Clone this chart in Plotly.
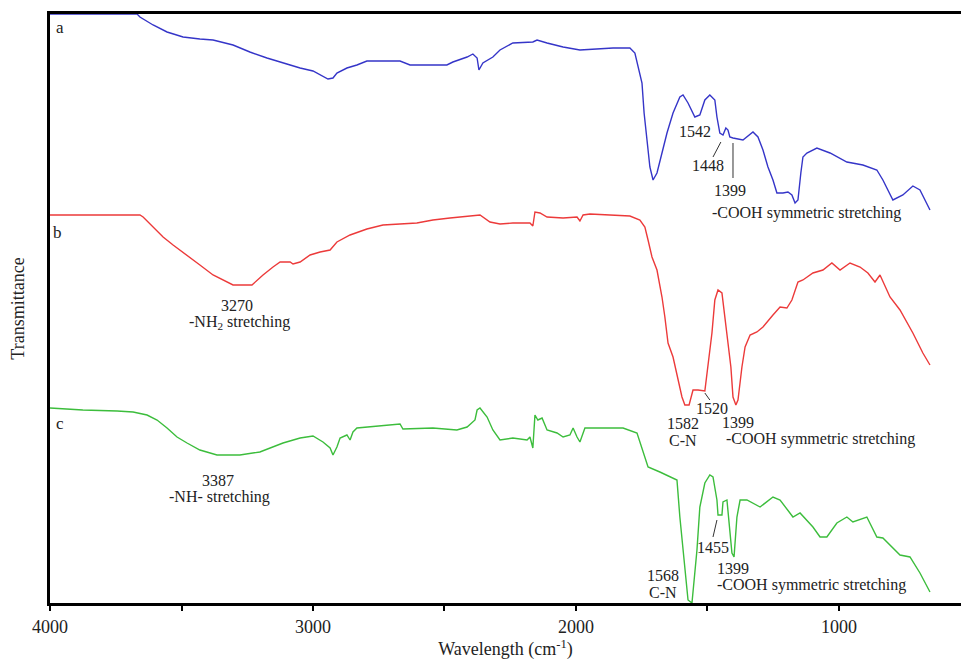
import plotly.graph_objects as go

# Wavenumber (cm^-1) and relative transmittance (arbitrary units)
a_wn = [4000, 3669, 3658, 3608, 3555, 3494, 3430, 3380, 3304, 3240, 3175, 3114, 3049, 3000, 2973,
        2943, 2924, 2909, 2871, 2833, 2795, 2669, 2631, 2491, 2468, 2414, 2392, 2376, 2369, 2354,
        2316, 2289, 2240, 2164, 2148, 2110, 2049, 1985, 1859, 1795, 1776, 1764, 1749, 1741, 1730,
        1719, 1707, 1692, 1673, 1654, 1631, 1605, 1593, 1574, 1548, 1529, 1510, 1491, 1472, 1464,
        1453, 1441, 1430, 1422, 1415, 1403, 1365, 1350, 1327, 1308, 1289, 1270, 1251, 1236, 1213,
        1194, 1179, 1167, 1156, 1145, 1137, 1122, 1084, 1034, 970, 909, 856, 833, 795, 757, 719,
        692, 654]
a_t = [589, 589, 586, 578, 571, 566, 564, 563, 558, 551, 545, 540, 535, 532, 528,
       524, 525, 530, 535, 538, 542, 542, 538, 538, 541, 546, 549, 545, 533, 540,
       546, 553, 560, 561, 563, 560, 556, 553, 555, 555, 550, 536, 520, 490, 460,
       436, 423, 430, 450, 470, 490, 506, 508, 500, 486, 488, 503, 508, 503, 486,
       470, 468, 475, 473, 466, 465, 463, 466, 471, 466, 453, 436, 423, 410, 410,
       411, 408, 400, 403, 430, 446, 450, 455, 450, 441, 438, 433, 423, 403, 408, 417,
       413, 393]

b_wn = [4000, 3658, 3646, 3608, 3570, 3532, 3479, 3430, 3380, 3304, 3232, 3190, 3152, 3125, 3087,
        3076, 3049, 3011, 2973, 2935, 2909, 2859, 2795, 2734, 2605, 2544, 2479, 2365, 2327, 2289,
        2240, 2175, 2164, 2156, 2137, 2110, 2049, 1996, 1985, 1973, 1947, 1795, 1757, 1738, 1726,
        1711, 1692, 1673, 1662, 1650, 1631, 1612, 1597, 1586, 1570, 1555, 1536, 1510, 1498, 1483,
        1472, 1460, 1445, 1434, 1422, 1411, 1403, 1392, 1384, 1369, 1357, 1338, 1312, 1289, 1251,
        1224, 1198, 1179, 1156, 1137, 1099, 1061, 1027, 996, 958, 920, 890, 863, 844, 806, 768,
        719, 681, 654]
b_t = [388, 388, 386, 376, 366, 358, 348, 338, 328, 318, 318, 328, 336, 341, 341,
       339, 341, 348, 351, 353, 361, 368, 374, 378, 380, 383, 385, 388, 381, 379,
       380, 380, 377, 391, 390, 386, 385, 386, 382, 388, 389, 387, 383, 376, 363,
       346, 333, 306, 286, 260, 246, 223, 206, 198, 198, 213, 213, 212, 236, 270,
       303, 313, 310, 286, 266, 236, 206, 198, 203, 236, 256, 268, 271, 276, 288,
       296, 295, 303, 321, 323, 330, 333, 340, 333, 340, 336, 330, 321, 328, 306, 293,
       270, 250, 238]

c_wn = [4000, 3875, 3745, 3684, 3631, 3593, 3555, 3517, 3479, 3430, 3365, 3278, 3202, 3114, 3049,
        3000, 2962, 2935, 2924, 2909, 2897, 2871, 2859, 2848, 2833, 2795, 2669, 2658, 2544, 2453,
        2414, 2384, 2376, 2365, 2338, 2316, 2289, 2240, 2186, 2175, 2164, 2156, 2145, 2129, 2110,
        2072, 2049, 2023, 2011, 1996, 1985, 1966, 1920, 1821, 1768, 1745, 1726, 1681, 1631, 1616,
        1605, 1586, 1574, 1559, 1555, 1540, 1529, 1510, 1491, 1479, 1464, 1460, 1445, 1441, 1426,
        1422, 1407, 1399, 1388, 1376, 1350, 1300, 1251, 1224, 1175, 1148, 1099, 1072, 1046, 1008,
        970, 947, 894, 856, 833, 768, 730, 692, 654]
c_t = [195, 193, 192, 191, 188, 183, 175, 166, 160, 153, 148, 148, 151, 160, 165,
       167, 161, 155, 148, 156, 165, 168, 163, 171, 175, 176, 179, 174, 175, 173,
       176, 183, 193, 195, 186, 173, 163, 165, 163, 166, 155, 188, 183, 185, 173,
       170, 166, 168, 175, 166, 161, 175, 175, 175, 170, 150, 136, 131, 125, 123,
       86, 36, 3, 0, 10, 53, 96, 120, 128, 126, 103, 88, 88, 101, 103,
       90, 50, 46, 86, 103, 103, 96, 106, 103, 86, 90, 76, 66, 66, 80,
       86, 81, 86, 66, 65, 48, 46, 30, 11]

x_ticks = [4000, 3000, 2000, 1000]
x_tick_text = ["4000", "3000", "2000", "1000"]

SERIF = "Liberation Serif"
TXT = "#222222"

fig = go.Figure()
fig.add_trace(go.Scatter(x=a_wn, y=a_t, mode="lines", line=dict(color="#3535c8", width=1.4), showlegend=False))
fig.add_trace(go.Scatter(x=b_wn, y=b_t, mode="lines", line=dict(color="#ec3a3a", width=1.4), showlegend=False))
fig.add_trace(go.Scatter(x=c_wn, y=c_t, mode="lines", line=dict(color="#3cbd3c", width=1.4), showlegend=False))

labels = [
    ("a", 3962, 576, 17), ("b", 3973, 371, 17), ("c", 3962, 180, 17),
    ("3270", 3289, 298, 16), ("-NH<sub>2</sub> stretching", 3281, 281, 16),
    ("3387", 3361, 123, 16), ("-NH- stretching", 3354, 106, 16),
    ("1542", 1548, 472, 16), ("1448", 1498, 438, 16), ("1399", 1415, 413, 16),
    ("-COOH symmetric stretching", 1122, 390, 16),
    ("1520", 1483, 195, 16), ("1582", 1593, 180, 16), ("C-N", 1593, 163, 16),
    ("1399", 1384, 181, 16), ("-COOH symmetric stretching", 1072, 164, 16),
    ("1455", 1479, 56, 16), ("1568", 1669, 28, 16), ("C-N", 1669, 11, 16),
    ("1399", 1403, 35, 16), ("-COOH symmetric stretching", 1103, 18, 16),
]
for t, x, y, s in labels:
    fig.add_annotation(x=x, y=y, text=t, showarrow=False, xanchor="center", yanchor="middle",
                       font=dict(family=SERIF, size=s, color=TXT))

leaders = [(1449, 461, 1479, 446), (1403, 460, 1403, 425), (1510, 210, 1491, 203), (1464, 83, 1479, 66)]
for x0, y0, x1, y1 in leaders:
    fig.add_shape(type="line", x0=x0, y0=y0, x1=x1, y1=y1, line=dict(color="#333333", width=1))

fig.update_layout(
    width=961, height=662,
    margin=dict(l=50, r=0, t=14, b=59),
    plot_bgcolor="white", paper_bgcolor="white",
    font=dict(family=SERIF, color=TXT),
    xaxis=dict(range=[4000, 536], tickvals=x_ticks, ticktext=x_tick_text, automargin=False,
               showline=True, linecolor="black", linewidth=3, mirror=True,
               ticks="outside", ticklen=5, tickwidth=2, tickcolor="black",
               minor=dict(tick0=500, dtick=500, ticks="outside", ticklen=5, tickwidth=2,
                          tickcolor="black", showgrid=False),
               showgrid=False, zeroline=False,
               tickfont=dict(family=SERIF, size=18, color=TXT),
               title=dict(text="Wavelength (cm<sup>-1</sup>)", font=dict(family=SERIF, size=18, color=TXT), standoff=4)),
    yaxis=dict(range=[0, 589], showline=True, linecolor="black", linewidth=3, mirror=False, automargin=False,
               showticklabels=False, ticks="", showgrid=False, zeroline=False,
               title=dict(text="Transmittance", font=dict(family=SERIF, size=18, color=TXT), standoff=18)),
)

fig.write_html("out.html", config={"displayModeBar": False},
               post_script="document.body.style.margin='0px';document.body.style.overflow='hidden';")
